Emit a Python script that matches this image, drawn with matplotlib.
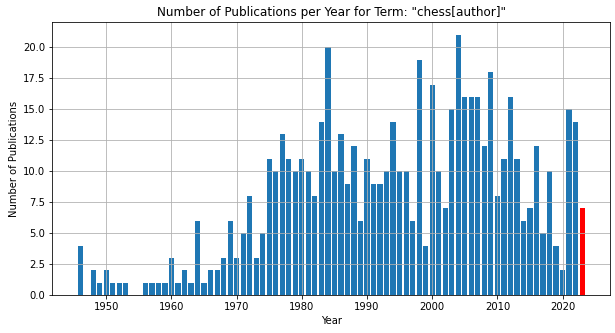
import numpy as np
import matplotlib.pyplot as plt

years = [1946, 1948, 1949, 1950, 1951, 1952, 1953,
         1956, 1957, 1958, 1959, 1960, 1961, 1962, 1963, 1964, 1965,
         1966, 1967, 1968, 1969, 1970, 1971, 1972, 1973, 1974, 1975,
         1976, 1977, 1978, 1979, 1980, 1981, 1982, 1983, 1984, 1985,
         1986, 1987, 1988, 1989, 1990, 1991, 1992, 1993, 1994, 1995,
         1996, 1997, 1998, 1999, 2000, 2001, 2002, 2003, 2004, 2005,
         2006, 2007, 2008, 2009, 2010, 2011, 2012, 2013, 2014, 2015,
         2016, 2017, 2018, 2019, 2020, 2021, 2022, 2023]
counts = [4, 2, 1, 2, 1, 1, 1,
          1, 1, 1, 1, 3, 1, 2, 1, 6, 1,
          2, 2, 3, 6, 3, 5, 8, 3, 5, 11,
          10, 13, 11, 10, 11, 10, 8, 14, 20, 10,
          13, 9, 12, 6, 11, 9, 9, 10, 14, 10,
          10, 6, 19, 4, 17, 10, 7, 15, 21, 16,
          16, 16, 12, 18, 8, 11, 16, 11, 6, 7,
          12, 5, 10, 4, 2, 15, 14, 7]
current_year = 2023

fig = plt.figure(figsize=(615 / 72, 333 / 72), dpi=72)
ax = fig.add_axes([0.085, 0.114, 0.907, 0.82])

colors = ['red' if y == current_year else 'tab:blue' for y in years]
ax.bar(years, counts, color=colors)
ax.grid(True)
ax.set_title('Number of Publications per Year for Term: "chess[author]"')
ax.set_xlabel('Year')
ax.set_ylabel('Number of Publications')

fig.savefig('out.png', dpi=72)
